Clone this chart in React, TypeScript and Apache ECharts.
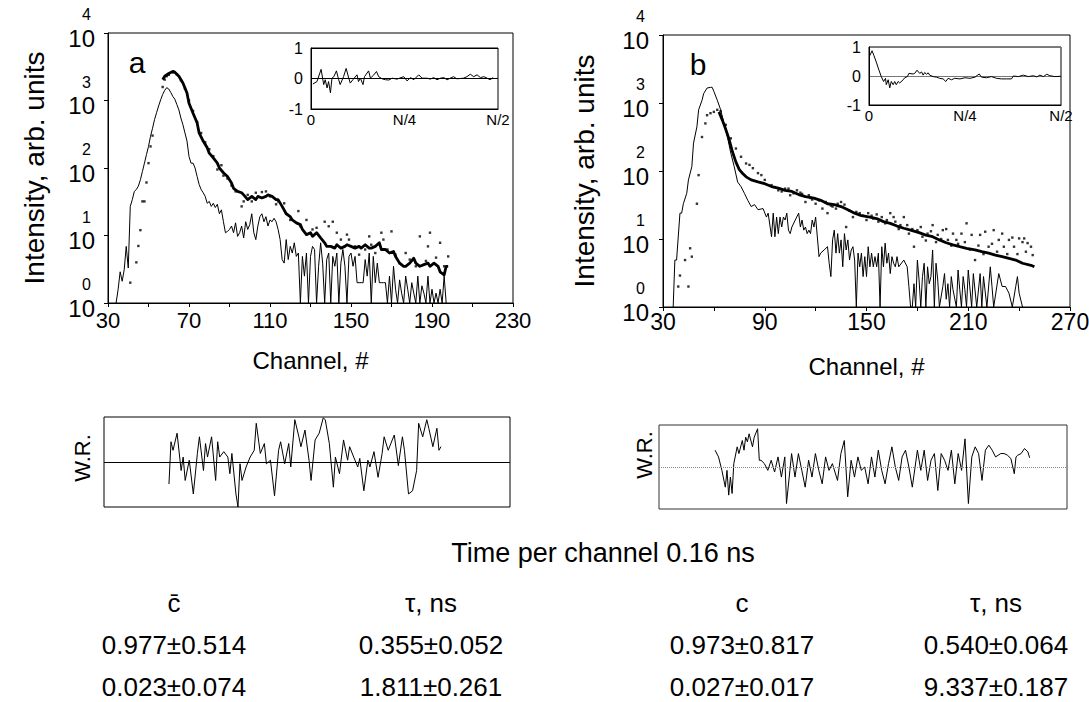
import React, { useEffect, useRef } from 'react';
import * as echarts from 'echarts';

const FONT = "'Liberation Sans', Arial, Helvetica, sans-serif";
const INK = '#000';

// ---------- Panel a (channels 30–230) ----------
const aPrompt: [number, number][] = [
  [34, 1], [35, 1.6], [36, 2.9], [37, 2.1], [38, 3.1], [39, 6.9], [40, 3.3], [41, 27], [42, 34], [43, 45],
  [44, 48], [45, 54], [46, 67], [47, 89], [48, 118], [49, 158], [50, 209], [51, 295], [52, 389], [53, 525],
  [54, 661], [55, 832], [56, 1023], [57, 1230], [58, 1413], [59, 1549], [60, 1480], [61, 1318], [62, 1148], [63, 1047],
  [64, 871], [65, 724], [66, 550], [67, 437], [68, 331], [69, 251], [70, 148], [71, 118], [72, 118], [73, 100],
  [74, 75], [75, 57], [76, 48], [77, 43], [78, 38], [79, 30], [80, 32], [81, 27], [82, 30], [83, 26],
  [84, 29], [85, 21], [86, 24], [87, 16], [88, 11], [89, 11.5], [90, 12.3], [91, 13.8], [92, 11], [93, 15.4],
  [94, 9.7], [95, 11], [96, 13.8], [97, 9.2], [98, 16], [99, 12.3], [100, 14.5], [101, 21], [102, 11], [103, 8.7],
  [104, 13.8], [105, 19], [106, 21], [107, 16], [108, 19], [109, 13.8], [110, 17], [111, 16], [112, 18], [113, 16],
  [114, 12.3], [115, 8.7], [116, 4.4], [117, 3.9], [118, 8.7], [119, 4.4], [120, 6.9], [121, 5.5], [122, 7.8], [123, 4.9],
  [124, 5.5], [125, 1], [126, 4.9], [127, 2.5], [128, 5.5], [129, 1], [130, 4.9], [131, 6.9], [132, 6.2], [133, 1],
  [134, 3.5], [135, 7.8], [136, 3.9], [137, 1], [138, 4.4], [139, 5.5], [140, 1], [141, 4.9], [142, 3.5], [143, 5.5],
  [144, 1], [145, 3.9], [146, 6.2], [147, 3.5], [148, 1], [149, 4.9], [150, 5.5], [151, 3.5], [152, 4.9], [153, 2],
  [154, 2], [155, 2], [156, 2], [157, 4.4], [158, 2.5], [159, 5.5], [160, 1], [161, 4.9], [162, 2], [163, 3.9],
  [164, 2], [165, 2], [166, 2], [167, 2], [168, 1], [169, 2.5], [170, 1], [171, 3.5], [172, 1.6], [173, 1],
  [174, 2.2], [175, 1.4], [176, 1], [177, 2.5], [178, 1.6], [179, 1], [180, 2], [181, 1.4], [182, 1], [183, 2.5],
  [184, 1], [185, 1.8], [186, 1.4], [187, 1], [188, 2.5], [189, 1], [190, 1.6], [191, 1], [192, 1.4], [193, 1],
  [194, 1.6], [195, 1], [196, 2.5], [197, 1],
];

const aFit: [number, number][] = [
  [57, 2040], [58, 2290], [60, 2510], [62, 2700], [63, 2630], [65, 2290], [67, 1820], [69, 1290], [70, 912], [72, 646],
  [74, 468], [75, 331], [77, 251], [79, 200], [80, 166], [82, 141], [84, 118], [85, 100], [87, 85], [89, 75],
  [91, 60], [92, 50], [94, 45], [96, 43], [97, 40], [99, 34], [101, 38], [103, 34], [104, 38], [106, 36],
  [108, 38], [109, 40], [111, 38], [113, 34], [114, 34], [116, 27], [118, 21], [120, 19], [121, 17], [123, 15.4],
  [125, 14.5], [126, 12.3], [128, 10.3], [130, 11], [131, 9.7], [133, 11], [135, 9.2], [137, 7.8], [138, 6.9], [140, 6.9],
  [142, 6.5], [143, 7.3], [145, 6.5], [147, 6.9], [148, 7.3], [150, 6.9], [152, 6.5], [154, 6.9], [155, 6.5], [157, 7.3],
  [159, 6.5], [160, 6.5], [162, 6.9], [164, 7.8], [165, 6.2], [167, 6.2], [169, 5.5], [171, 5.8], [172, 4.9], [174, 3.9],
  [176, 3.5], [177, 3.5], [179, 3.9], [181, 4.6], [182, 3.9], [184, 3.5], [186, 3.7], [188, 3.9], [189, 3.5], [191, 3.9],
  [193, 3.5], [194, 2.9], [196, 2.6], [197, 3.5], [198, 3.5],
];

const aData: [number, number][] = [
  [41, 2], [44, 4], [45, 7], [46, 12], [47, 32], [48, 32], [49, 61], [50, 118], [51, 209], [52, 302],
  [57, 1585], [58, 2040], [59, 2290], [60, 2400], [62, 2600], [64, 2450], [66, 2000], [68, 1500], [70, 1000], [72, 700],
  [74, 480], [76, 330], [78, 240], [80, 190], [82, 150], [84, 95], [86, 110], [87, 77], [89, 70], [91, 55],
  [93, 45], [96, 27], [97, 32], [99, 40], [101, 32], [103, 43], [106, 44], [108, 45], [110, 38], [113, 29],
  [114, 32], [117, 30], [120, 17], [124, 23], [125, 13.7], [128, 17], [131, 12.3], [133, 13], [137, 16], [139, 13.7],
  [141, 16], [143, 11], [145, 8.7], [148, 10.3], [149, 8.7], [152, 6.9], [154, 5.2], [157, 6.2], [159, 9.7], [160, 7.3],
  [162, 5.5], [165, 11], [166, 8.7], [168, 6.2], [170, 11.5], [172, 5.2], [174, 3.9], [177, 5.5], [179, 4.4], [182, 3.5],
  [184, 9.7], [187, 4.2], [188, 6.9], [189, 11], [192, 4.7], [194, 7.8], [196, 3.5], [198, 4.9],
];

// ---------- Panel b (channels 30–270) ----------
const bPrompt: [number, number][] = [
  [36, 1], [37, 4.9], [38, 4.9], [40, 24], [41, 24], [42, 33], [44, 47], [45, 74], [47, 116], [48, 257],
  [50, 447], [51, 794], [53, 1096], [54, 1380], [56, 1660], [58, 1700], [59, 1700], [60, 1480], [62, 1100], [64, 794],
  [66, 501], [68, 316], [70, 182], [72, 116], [74, 69], [76, 59], [78, 47], [80, 37], [82, 30], [84, 32],
  [86, 27], [89, 28], [91, 21], [92, 24], [94, 10.8], [95, 24], [96, 10.8], [97, 21], [98, 12], [99, 21],
  [100, 15], [101, 21], [102, 19], [103, 24], [104, 13.5], [105, 12], [106, 15], [108, 19], [110, 24], [111, 15],
  [112, 19], [113, 13.5], [114, 15], [115, 12], [116, 13.5], [117, 12], [118, 19], [119, 15], [120, 21], [122, 5.5],
  [123, 6.2], [125, 6.9], [127, 7.7], [128, 4.4], [129, 2.8], [130, 9.7], [131, 13.5], [132, 6.2], [133, 12], [134, 6.2],
  [135, 9.7], [136, 3.9], [137, 12], [138, 6.9], [139, 9.7], [140, 4.9], [141, 6.9], [142, 7.7], [143, 4.9], [144, 1],
  [145, 6.2], [146, 3.9], [147, 6.2], [148, 2.8], [149, 5.5], [150, 2.8], [151, 7.7], [152, 3.9], [153, 6.2], [154, 3.9],
  [155, 5.5], [156, 3.9], [157, 6.2], [158, 1], [159, 7.7], [160, 3.9], [161, 8.7], [162, 4.4], [163, 6.2], [164, 3.1],
  [165, 5.5], [166, 4.4], [167, 3.9], [168, 5.5], [169, 3.9], [172, 4.9], [174, 3.9], [175, 2], [176, 1], [177, 1],
  [178, 2.2], [179, 1], [180, 4.9], [181, 2.5], [182, 1], [183, 2.8], [184, 4.4], [185, 1], [186, 3.9], [187, 2.2],
  [188, 2.8], [189, 6.9], [190, 1], [191, 4.4], [192, 2.5], [193, 1], [195, 2], [196, 3.1], [197, 1.3], [198, 2.2],
  [199, 1], [200, 2.8], [201, 1.8], [203, 1], [204, 3.5], [205, 1.8], [206, 1], [207, 2.8], [208, 1.8], [209, 1],
  [210, 3.5], [212, 1], [213, 3.1], [215, 1], [217, 3.1], [218, 1], [219, 2.8], [221, 1], [223, 3.9], [224, 2],
  [225, 1], [228, 3.1], [230, 2], [232, 2], [234, 1.6], [236, 1], [238, 2], [239, 2.8], [240, 1.6], [242, 1],
];

const bFit: [number, number][] = [
  [63, 740], [65, 560], [67, 410], [69, 290], [71, 190], [73, 135], [75, 105], [77, 92], [79, 82], [82, 74],
  [86, 69], [90, 65], [94, 59], [98, 56], [102, 52], [106, 50], [110, 45], [114, 42], [119, 40], [123, 37],
  [127, 33], [131, 32], [135, 30], [139, 27], [143, 24], [147, 22], [152, 21], [156, 20], [160, 18], [164, 17],
  [168, 15.5], [172, 14.4], [176, 13.5], [181, 12.4], [185, 11.4], [189, 10.8], [193, 9.7], [197, 8.8], [201, 8.2], [205, 7.7],
  [209, 7.3], [214, 6.9], [218, 6.5], [222, 6.2], [226, 5.8], [230, 5.5], [234, 5.2], [238, 4.9], [242, 4.4], [247, 4.1],
  [249, 3.9],
];

const bData: [number, number][] = [
  [39, 2], [40, 2.9], [43, 4.9], [45, 2], [46, 7.3], [47, 5.5], [50, 33], [51, 87], [53, 316], [55, 501],
  [56, 661], [58, 708], [60, 741], [62, 794], [64, 760], [67, 478], [70, 302], [73, 214], [76, 162], [79, 129],
  [81, 123], [83, 110], [86, 93], [88, 87], [90, 74], [94, 62], [96, 58], [98, 52], [100, 50], [102, 55],
  [104, 55], [105, 44], [107, 47], [109, 52], [111, 48], [112, 46], [114, 35], [116, 44], [117, 40], [118, 38],
  [120, 33], [122, 37], [124, 28], [126, 35], [127, 24], [129, 31], [130, 30], [132, 28], [133, 33], [135, 35],
  [137, 32], [138, 15], [140, 26], [142, 21], [144, 25], [146, 24], [148, 22], [150, 19], [151, 24], [153, 22],
  [154, 20], [156, 23], [157, 18], [159, 21], [161, 17], [162, 19], [164, 24], [166, 21], [167, 18], [169, 14],
  [170, 16], [172, 21], [174, 16], [175, 12], [177, 14], [178, 7.7], [180, 13.5], [182, 15], [183, 10.8], [185, 9.5],
  [186, 12], [188, 13], [189, 16], [191, 9], [192, 11.5], [194, 10], [195, 13.5], [197, 14], [198, 9.7], [200, 8],
  [201, 12], [203, 9.7], [204, 8.5], [206, 12], [208, 9], [209, 17], [211, 7], [212, 11.5], [214, 4.9], [216, 8],
  [217, 11.5], [219, 6], [220, 12.8], [222, 7.7], [224, 8.5], [225, 13.5], [227, 6.5], [228, 9.7], [230, 12], [231, 7.7],
  [233, 6], [234, 9.7], [236, 10.5], [237, 7.7], [239, 6], [240, 10.2], [242, 9], [243, 10.2], [244, 6.5], [245, 8.7],
  [247, 7.7], [248, 5.8],
];

// ---------- Insets (x in units of N, 0 … N/2) ----------
const insetA: [number, number][] = [
  [0.005, -0.18], [0.016, -0.1], [0.027, 0.3], [0.034, -0.2], [0.038, -0.04], [0.043, -0.31], [0.047, -0.1], [0.052, -0.47],
  [0.056, 0.01], [0.061, 0.06], [0.068, 0.25], [0.074, -0.04], [0.078, -0.2], [0.087, 0.06], [0.094, 0.33], [0.101, 0.01],
  [0.105, -0.15], [0.112, -0.04], [0.123, 0.12], [0.127, -0.1], [0.132, 0.01], [0.139, -0.2], [0.143, 0.06], [0.154, 0.25],
  [0.159, 0.01], [0.168, 0.12], [0.175, 0.23], [0.181, 0.06], [0.19, -0.01], [0.199, -0.04], [0.208, -0.05], [0.217, 0.01],
  [0.23, -0.02], [0.248, 0.06], [0.257, -0.08], [0.266, 0.03], [0.275, -0.04], [0.288, 0.12], [0.297, 0.01], [0.31, 0.01],
  [0.319, -0.02], [0.328, 0.03], [0.337, -0.04], [0.346, 0.01], [0.355, 0.03], [0.364, -0.04], [0.381, 0.06], [0.39, -0.01],
  [0.408, 0.01], [0.417, 0.06], [0.426, 0.14], [0.435, 0.06], [0.444, 0.12], [0.453, 0.03], [0.462, 0.06], [0.471, 0.01],
  [0.479, -0.04], [0.487, 0.03],
];

const insetB: [number, number][] = [
  [0.002, 0.7], [0.008, 0.87], [0.013, 0.7], [0.019, 0.48], [0.026, 0.2], [0.032, -0.02], [0.038, -0.19], [0.043, -0.08],
  [0.045, -0.3], [0.05, -0.13], [0.054, -0.41], [0.058, -0.19], [0.063, -0.3], [0.067, -0.19], [0.071, -0.3], [0.076, -0.19],
  [0.08, -0.24], [0.089, -0.13], [0.093, -0.06], [0.1, -0.02], [0.104, 0.09], [0.115, 0.07], [0.119, 0.09], [0.125, 0.2],
  [0.132, 0.09], [0.137, 0.14], [0.141, 0.03], [0.145, 0.12], [0.15, 0.06], [0.154, 0.11], [0.158, 0.03], [0.167, -0.02],
  [0.176, -0.04], [0.184, -0.08], [0.193, -0.1], [0.2, -0.19], [0.206, -0.08], [0.215, -0.13], [0.223, -0.08], [0.237, -0.1],
  [0.25, -0.06], [0.263, -0.08], [0.276, -0.04], [0.287, 0.07], [0.293, -0.04], [0.306, -0.06], [0.319, -0.02], [0.332, -0.08],
  [0.345, -0.1], [0.358, -0.1], [0.371, -0.1], [0.376, 0], [0.389, -0.02], [0.402, 0.03], [0.415, -0.02], [0.428, 0.01],
  [0.437, -0.03], [0.445, 0.03], [0.454, -0.02], [0.463, 0.06], [0.471, 0.01], [0.484, -0.02], [0.5, -0.01],
];
const insetTicks: Record<string, string> = { '0': '0', '0.25': 'N/4', '0.5': 'N/2' };

// ---------- Weighted residuals ----------
const wrA: [number, number][] = [
  [62, -0.49], [63, 0.45], [64, 0.26], [66, 0.64], [68, -0.19], [69, 0.11], [70, -0.41], [72, 0.04], [74, -0.71], [76, 0.19],
  [77, 0.56], [79, -0.19], [80, 0.41], [81, 0.11], [83, 0.56], [85, -0.41], [86, 0.45], [87, 0.11], [89, 0.23], [91, 0.11],
  [92, -0.26], [93, 0.19], [95, -0.71], [96, -1.0], [97, -0.04], [98, -0.41], [100, -0.11], [102, 0.11], [104, 0.26], [105, 0.86],
  [107, 0.19], [109, 0.41], [110, -0.04], [112, 0.04], [114, -0.75], [116, 0.26], [117, 0.45], [119, -0.04], [121, 0.41], [122, -0.11],
  [124, 0.94], [126, 0.56], [127, 0.34], [129, 0.71], [131, 0.04], [132, -0.41], [134, 0.49], [136, 0.64], [138, 0.98], [139, 0.94],
  [141, 0.41], [143, -0.56], [144, 0.11], [146, -0.26], [148, 0.49], [150, 0.04], [151, 0.34], [153, 0.11], [155, -0.11], [156, 0.08],
  [158, -0.64], [160, 0.04], [161, -0.11], [163, 0.23], [165, -0.34], [167, 0.19], [168, 0.56], [170, 0.26], [172, 0.49], [173, 0.6],
  [175, -0.08], [177, 0.56], [178, 0.26], [180, -0.71], [182, -0.64], [184, -0.19], [185, 0.86], [187, 0.56], [189, 0.94], [190, 0.75],
  [192, 0.34], [194, 0.75], [195, 0.26], [196, 0.34],
];

const wrB: [number, number][] = [
  [63, 0.4], [65, 0.24], [67, -0.08], [69, -0.48], [70, -0.08], [71, -0.67], [72, -0.24], [73, -0.63], [74, 0.08], [76, 0.48],
  [77, 0.32], [79, 0.63], [80, 0.4], [81, 0.71], [82, 0.6], [83, 0.79], [85, 0.48], [86, 0.71], [88, 0.91], [89, 0.16],
  [90, 0.16], [92, 0.08], [94, -0.08], [96, 0.16], [98, -0.12], [100, 0.24], [102, -0.24], [104, 0.24], [105, -0.87], [107, -0.08],
  [108, 0.32], [110, -0.24], [112, 0.32], [114, -0.08], [116, -0.48], [118, 0.16], [120, -0.24], [122, 0.32], [124, -0.08], [126, -0.4],
  [128, 0.24], [130, -0.08], [132, 0.08], [135, -0.32], [137, 0.32], [139, 0.63], [141, -0.71], [143, 0.16], [145, -0.24], [147, 0.24],
  [149, -0.08], [151, 0], [153, -0.4], [155, 0.24], [157, -0.24], [159, 0.4], [161, -0.08], [163, -0.4], [165, 0.08], [167, 0.48],
  [169, 0], [171, -0.32], [173, 0.24], [175, 0.4], [177, 0], [179, -0.48], [182, 0.4], [184, -0.08], [186, 0.4], [188, -0.32],
  [190, 0.16], [192, 0.32], [194, -0.56], [196, 0.32], [198, 0.16], [200, -0.08], [202, 0.4], [204, -0.4], [206, 0.32], [208, -0.08],
  [210, 0.67], [212, -0.87], [214, 0.24], [216, 0.48], [218, 0.32], [220, -0.32], [222, 0.4], [224, 0.52], [226, 0.4], [228, 0.24],
  [231, 0.32], [233, 0.32], [235, 0.28], [237, 0.2], [239, -0.16], [240, 0.24], [241, 0.28], [243, 0.32], [245, 0.44], [247, 0.36],
  [248, 0.22],
];

// ---------- Text blocks ----------
const footerTitle = 'Time per channel 0.16 ns';
const tableHeaders = ['c\u0304', 'τ, ns', 'c', 'τ, ns'];
const tableRow1 = ['0.977±0.514', '0.355±0.052', '0.973±0.817', '0.540±0.064'];
const tableRow2 = ['0.023±0.074', '1.811±0.261', '0.027±0.017', '9.337±0.187'];

// "10" with the exponent set above it, as in the scanned figure
const logLabel = (v: number) => {
  const e = Math.round(Math.log10(v));
  return `{s|${e}}\n{b|10}\n{e| }`;
};
const logRich = {
  s: { fontSize: 16, lineHeight: 21, align: 'right', padding: [0, 4, 0, 0], fontFamily: FONT, color: INK },
  b: { fontSize: 24, lineHeight: 26, align: 'right', fontFamily: FONT, color: INK },
  e: { fontSize: 6, lineHeight: 11, align: 'right' },
};

function mainX(grid: number, min: number, max: number, step: number, fontSize: number, margin: number, gap: number) {
  return {
    type: 'value', gridIndex: grid, min, max, interval: step,
    axisLine: { show: true, onZero: false, lineStyle: { color: INK, width: 1 } },
    axisTick: { show: true, length: 4, lineStyle: { color: INK } },
    minorTick: { show: true, splitNumber: 2, length: 4, lineStyle: { color: INK } },
    splitLine: { show: false },
    axisLabel: { color: INK, fontSize, fontFamily: FONT, margin },
    name: 'Channel, #', nameLocation: 'middle', nameGap: gap,
    nameTextStyle: { color: INK, fontSize: 24, fontFamily: FONT },
  };
}
function mainY(grid: number, margin: number, gap: number) {
  return {
    type: 'log', logBase: 10, gridIndex: grid, min: 1, max: 10000,
    axisLine: { show: true, onZero: false, lineStyle: { color: INK, width: 1 } },
    axisTick: { show: true, length: 4, lineStyle: { color: INK } },
    splitLine: { show: false },
    axisLabel: { formatter: logLabel, rich: logRich, margin },
    name: 'Intensity, arb. units', nameLocation: 'middle', nameGap: gap,
    nameTextStyle: { color: INK, fontSize: 28, fontFamily: FONT },
  };
}
function insetX(grid: number) {
  return {
    type: 'value', gridIndex: grid, min: 0, max: 0.5, interval: 0.25,
    axisLine: { show: true, onZero: false, lineStyle: { color: INK, width: 1 } },
    axisTick: { show: false }, splitLine: { show: false },
    axisLabel: { color: INK, fontSize: 15, fontFamily: FONT, margin: 3, formatter: (v: number) => insetTicks[String(v)] ?? '' },
  };
}
function insetY(grid: number, zeroColor: string) {
  return {
    type: 'value', gridIndex: grid, min: -1, max: 1, interval: 1,
    axisLine: { show: true, lineStyle: { color: INK, width: 1 } },
    axisTick: { show: false },
    splitLine: { show: true, lineStyle: { color: zeroColor, width: 1 } },
    axisLabel: { color: INK, fontSize: 16, fontFamily: FONT, margin: 8 },
  };
}
function wrX(grid: number, min: number, max: number) {
  return { type: 'value', gridIndex: grid, min, max, show: false };
}
function wrY(grid: number) {
  return { type: 'value', gridIndex: grid, min: -1, max: 1, show: false };
}

const lineSeries = (data: [number, number][], xi: number, width: number, extra: any = {}) => ({
  type: 'line', xAxisIndex: xi, yAxisIndex: xi, data, showSymbol: false, symbol: 'none',
  lineStyle: { color: INK, width, join: 'round' }, itemStyle: { color: INK }, silent: true, ...extra,
});
const dotSeries = (data: [number, number][], xi: number) => ({
  type: 'scatter', xAxisIndex: xi, yAxisIndex: xi, data, symbol: 'rect', symbolSize: 2.4,
  itemStyle: { color: INK }, silent: true,
});
const zeroMark = (color: string, type: string) => ({
  markLine: {
    silent: true, symbol: 'none', label: { show: false },
    lineStyle: { color, width: 1, type },
    data: [{ yAxis: 0 }],
  },
});

const txt = (text: string, x: number, y: number, fontSize: number, extra: any = {}) => ({
  type: 'text', x, y, silent: true,
  style: { text, fill: INK, fontSize, fontFamily: FONT, align: 'center', verticalAlign: 'middle' },
  ...extra,
});

const colX = [174, 431, 742, 996];

export default function App() {
  const ref = useRef<HTMLDivElement>(null);
  useEffect(() => {
    const chart = echarts.init(ref.current!, null, { renderer: 'svg' });
    const gridBase = { show: true, borderColor: INK, borderWidth: 1, containLabel: false, outerBoundsMode: 'none' };
    const option: any = {
      animation: false,
      backgroundColor: '#fff',
      grid: [
        { ...gridBase, left: 108, top: 33, width: 405, height: 270 },
        { ...gridBase, left: 663, top: 35, width: 407, height: 272 },
        { ...gridBase, left: 311, top: 48, width: 187, height: 61, backgroundColor: '#fff' },
        { ...gridBase, left: 869, top: 47, width: 192, height: 58, backgroundColor: '#fff' },
        { ...gridBase, left: 104, top: 417, width: 406, height: 90 },
        { ...gridBase, left: 659, top: 425, width: 408, height: 84, borderColor: '#333' },
      ],
      xAxis: [
        mainX(0, 30, 230, 40, 22, 6, 45),
        mainX(1, 30, 270, 60, 23, 3, 47),
        insetX(2),
        insetX(3),
        wrX(4, 30, 230),
        wrX(5, 30, 270),
      ],
      yAxis: [
        mainY(0, 13, 60),
        mainY(1, 14, 65),
        insetY(2, INK),
        insetY(3, '#777'),
        wrY(4),
        wrY(5),
      ],
      series: [
        lineSeries(aPrompt, 0, 1),
        lineSeries(aFit, 0, 2.8),
        dotSeries(aData, 0),
        lineSeries(bPrompt, 1, 1),
        lineSeries(bFit, 1, 2.8),
        dotSeries(bData, 1),
        lineSeries(insetA, 2, 1),
        lineSeries(insetB, 3, 1),
        lineSeries(wrA, 4, 1, zeroMark(INK, 'solid')),
        lineSeries(wrB, 5, 1, zeroMark('#888', 'dotted')),
      ],
      graphic: [
        txt('a', 137, 62, 30),
        txt('b', 698, 64, 30),
        txt('W.R.', 82, 458, 22, { rotation: Math.PI / 2 }),
        txt('W.R.', 644, 455, 22, { rotation: Math.PI / 2 }),
        txt(footerTitle, 603, 553, 27),
        ...tableHeaders.map((t, i) => txt(t, colX[i], 603, 26)),
        ...tableRow1.map((t, i) => txt(t, colX[i], 645, 26)),
        ...tableRow2.map((t, i) => txt(t, colX[i], 687, 26)),
      ],
    };
    chart.setOption(option);
    return () => chart.dispose();
  }, []);
  return (
    <div
      ref={ref}
      style={{ position: 'absolute', left: 0, top: 0, width: 1089, height: 702, background: '#fff' }}
    />
  );
}
